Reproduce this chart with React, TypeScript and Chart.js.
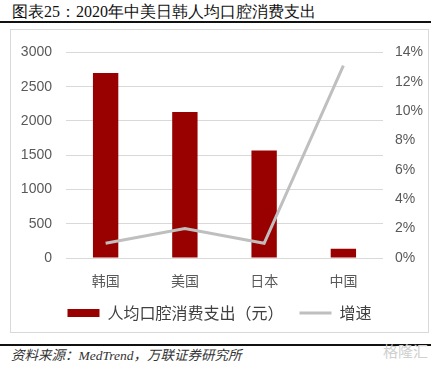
import React, { useEffect, useRef } from "react";
import { Chart, registerables } from "chart.js";

Chart.register(...registerables);

const categories = ["韩国", "美国", "日本", "中国"];
const spending = [2700, 2130, 1570, 135];
const growth = [0.01, 0.02, 0.01, 0.131];
const seriesNames = ["人均口腔消费支出（元）", "增速"];
const leftAxis = { min: 0, max: 3000, step: 500 };
const rightAxis = { min: 0, max: 0.14, step: 0.02 };

const titleText = "图表25：2020年中美日韩人均口腔消费支出";
const sourceText = "资料来源：MedTrend，万联证券研究所";

const BAR_COLOR = "#990000";
const LINE_COLOR = "#bfbfbf";
const TICK_COLOR = "#595959";
const GRID_COLOR = "#d9d9d9";

function ChartBox() {
  const ref = useRef<HTMLCanvasElement | null>(null);
  useEffect(() => {
    if (!ref.current) return;
    const chart = new Chart(ref.current, {
      type: "bar",
      data: {
        labels: categories,
        datasets: [
          {
            type: "bar",
            label: seriesNames[0],
            data: spending,
            backgroundColor: BAR_COLOR,
            borderWidth: 0,
            yAxisID: "y",
            order: 1,
            barPercentage: 0.32,
            categoryPercentage: 1,
          },
          {
            type: "line",
            label: seriesNames[1],
            data: growth,
            borderColor: LINE_COLOR,
            backgroundColor: LINE_COLOR,
            borderWidth: 3,
            pointRadius: 0,
            tension: 0,
            yAxisID: "y1",
            order: 0,
          } as any,
        ],
      },
      options: {
        animation: false,
        responsive: false,
        maintainAspectRatio: false,
        layout: { padding: { top: 17, left: 0, right: 0, bottom: 1 } },
        plugins: {
          tooltip: { enabled: false },
          legend: {
            position: "bottom",
            labels: {
              usePointStyle: true,
              pointStyleWidth: 32,
              boxHeight: 8,
              padding: 16,
              color: "#404040",
              font: { family: "'Noto Sans CJK SC'", size: 16 },
              sort: (a: any, b: any) => a.datasetIndex - b.datasetIndex,
              generateLabels: (c: any) => {
                const items = (Chart.defaults.plugins.legend.labels as any).generateLabels(c);
                return items.map((it: any) =>
                  it.datasetIndex === 1
                    ? { ...it, pointStyle: "line", lineWidth: 3, strokeStyle: LINE_COLOR, fillStyle: LINE_COLOR }
                    : { ...it, pointStyle: "rect", lineWidth: 0, strokeStyle: BAR_COLOR, fillStyle: BAR_COLOR }
                );
              },
            },
          },
        },
        scales: {
          x: {
            grid: { display: false, drawTicks: false },
            border: { display: false },
            ticks: {
              color: TICK_COLOR,
              padding: 14,
              font: { family: "'Noto Sans CJK SC'", size: 14 },
            },
            afterFit: (s: any) => {
              s.height = 31;
            },
          },
          y: {
            position: "left",
            min: leftAxis.min,
            max: leftAxis.max,
            grid: { color: GRID_COLOR, drawTicks: false, lineWidth: 1 },
            border: { display: false },
            ticks: {
              stepSize: leftAxis.step,
              color: TICK_COLOR,
              padding: 14,
              font: { family: "'Liberation Sans', Arial", size: 14 },
              callback: (v: any) => String(Math.round(Number(v))),
            },
            afterFit: (s: any) => {
              s.width = 55;
            },
          },
          y1: {
            position: "right",
            min: rightAxis.min,
            max: rightAxis.max,
            grid: { display: false, drawTicks: false },
            border: { display: false },
            ticks: {
              stepSize: rightAxis.step,
              color: TICK_COLOR,
              padding: 12,
              font: { family: "'Liberation Sans', Arial", size: 14 },
              callback: (v: any) => Math.round(Number(v) * 100) + "%",
            },
            afterFit: (s: any) => {
              s.width = 45;
            },
          },
        },
      },
    });
    return () => chart.destroy();
  }, []);
  return <canvas ref={ref} width={417} height={302} style={{ display: "block", width: 417, height: 302 }} />;
}

export default function App() {
  return (
    <div style={{ position: "absolute", left: 0, top: 0, width: 431, height: 365, background: "#fff", overflow: "hidden" }}>
      <div
        style={{
          position: "absolute",
          left: 12,
          top: 2,
          fontFamily: "'Liberation Serif', 'DejaVu Serif', serif",
          fontSize: 16,
          lineHeight: "20px",
          color: "#111",
          whiteSpace: "nowrap",
        }}
      >
        {titleText}
      </div>
      <div style={{ position: "absolute", left: 0, top: 21, width: 431, height: 2, background: "#111" }} />
      <div
        style={{
          position: "absolute",
          left: 10,
          top: 29,
          width: 417,
          height: 302,
          border: "1px solid #d9d9d9",
        }}
      >
        <ChartBox />
      </div>
      <div style={{ position: "absolute", left: 0, top: 344, width: 431, height: 2, background: "#111" }} />
      <div
        style={{
          position: "absolute",
          left: 11,
          top: 347,
          fontFamily: "'Liberation Serif', 'Noto Sans CJK SC', serif",
          fontStyle: "italic",
          fontSize: 13.5,
          lineHeight: "18px",
          color: "#333",
          whiteSpace: "nowrap",
        }}
      >
        {sourceText}
      </div>
      <div
        style={{
          position: "absolute",
          left: 383,
          top: 341,
          fontFamily: "'Noto Sans CJK SC'",
          fontSize: 15,
          lineHeight: "20px",
          color: "#d0d0d0",
          whiteSpace: "nowrap",
        }}
      >
        格隆汇
      </div>
    </div>
  );
}
